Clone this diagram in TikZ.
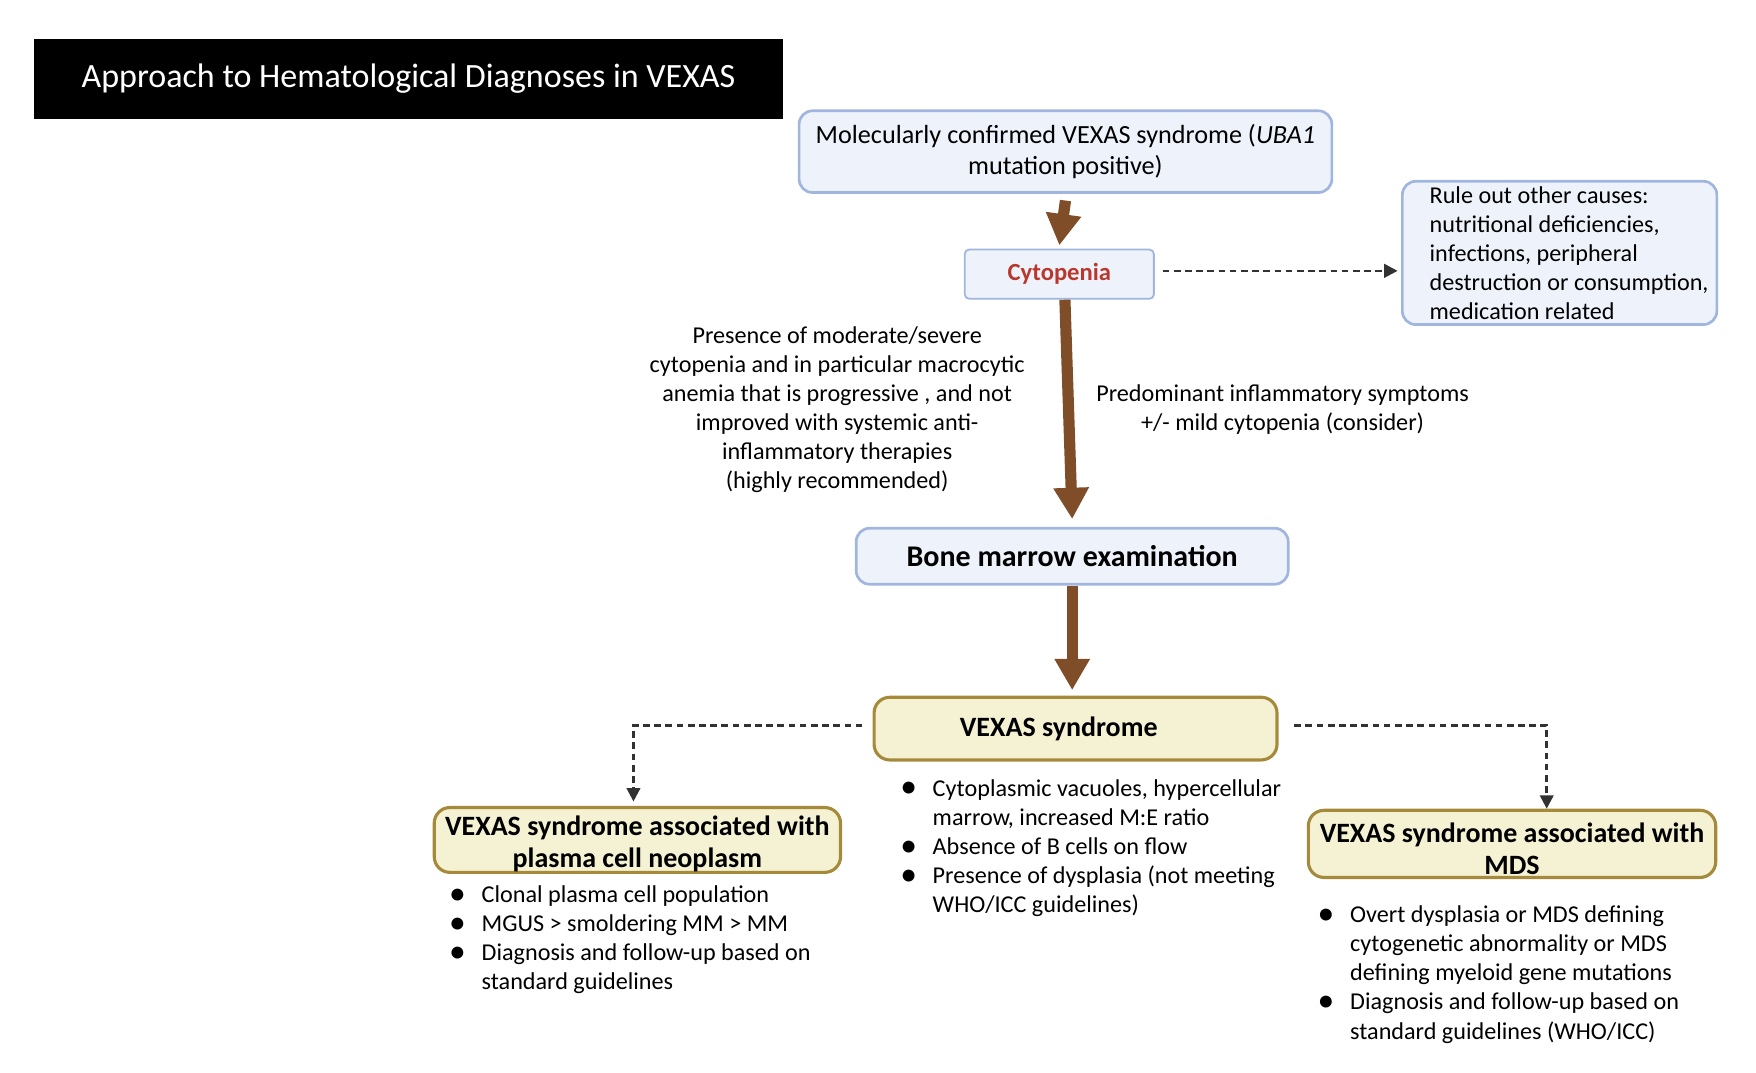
\documentclass[tikz,border=0pt]{standalone}
\usepackage{fontspec}
\setmainfont{Carlito}
\usetikzlibrary{arrows.meta}

\definecolor{boxblue}{RGB}{238,243,251}
\definecolor{lineblue}{RGB}{160,182,222}
\definecolor{boxcream}{RGB}{245,242,212}
\definecolor{linegold}{RGB}{166,138,60}
\definecolor{arrowbrown}{RGB}{127,78,40}
\definecolor{cytored}{RGB}{185,55,45}
\definecolor{dashgray}{RGB}{50,50,50}

\newcommand{\bul}{\makebox[14.5pt][l]{\smash{\raisebox{-0.15ex}{\fontsize{15}{13}\selectfont\textbullet}}}}
\newcommand{\ind}{\hspace*{14.5pt}}

\tikzset{
  bluebox/.style={draw=lineblue, line width=1.2pt, fill=boxblue, rounded corners=6pt, inner sep=0pt, align=center},
  creambox/.style={draw=linegold, line width=1.4pt, fill=boxcream, rounded corners=7pt, inner sep=0pt, align=center, font=\fontsize{12.5}{14.5}\selectfont\bfseries},
  bigarrow/.style={draw=arrowbrown, line width=5pt, -{Triangle[width=15pt,length=14pt]}},
  dasharrow/.style={draw=dashgray, line width=1.2pt, dash pattern=on 3pt off 2pt, -{Triangle[width=6pt,length=6pt]}},
  note/.style={font=\fontsize{10.8}{13}\selectfont, align=center, inner sep=0pt},
  bullets/.style={font=\fontsize{10.8}{13}\selectfont, align=left, inner sep=0pt, anchor=north west}
}

\begin{document}
\begin{tikzpicture}[x=0.5pt, y=-0.5pt]
\useasboundingbox (0,0) rectangle (1569,958);

\node[fill=black, minimum width=335pt, minimum height=35.5pt, text=white, font=\fontsize{15.2}{18}\selectfont] (title) at (365,70.5) {Approach to Hematological Diagnoses in VEXAS};

\node[bluebox, minimum width=238pt, minimum height=36.5pt, font=\fontsize{11.7}{14}\selectfont] (uba) at (952,135.5)
  {Molecularly confirmed VEXAS syndrome (\textit{UBA1}\\ mutation positive)};
\node[bluebox, line width=0.8pt, rounded corners=2pt, minimum width=84.5pt, minimum height=22pt, text=cytored, font=\fontsize{11}{13}\selectfont\bfseries] (cyto) at (946.5,245) {Cytopenia};
\node[bluebox, minimum width=140.5pt, minimum height=64pt] (rule) at (1393.5,226) {};
\node[note, align=left, anchor=west] (ruletext) at (1277,226)
  {Rule out other causes:\\ nutritional deficiencies,\\ infections, peripheral\\ destruction or consumption,\\ medication related};

\node[note] (severe) at (748,366)
  {Presence of moderate/severe\\ cytopenia and in particular macrocytic\\ anemia that is progressive , and not\\ improved with systemic anti-\\ inflammatory therapies\\ (highly recommended)};
\node[note] (mild) at (1146,366)
  {Predominant inflammatory symptoms\\ +/- mild cytopenia (consider)};

\node[bluebox, minimum width=193pt, minimum height=25pt, font=\fontsize{13.4}{16}\selectfont\bfseries] (bone) at (958,497) {Bone marrow examination};

\node[creambox, minimum width=180pt, minimum height=28pt] (vexas) at (961,651) {VEXAS syndrome\hspace*{15pt}};
\node[creambox, minimum width=181.5pt, minimum height=28.5pt] (pcn) at (569.5,750.5)
  {\\[-2pt]VEXAS syndrome associated with\\ plasma cell neoplasm};
\node[creambox, minimum width=182pt, minimum height=30pt] (mds) at (1351,754)
  {\\[-1.5pt]VEXAS syndrome associated with\\ MDS};

\node[bullets] (vexaslist) at (804,696)
  {\bul Cytoplasmic vacuoles, hypercellular\\ \ind marrow, increased M:E ratio\\ \bul Absence of B cells on flow\\ \bul Presence of dysplasia (not meeting\\ \ind WHO/ICC guidelines)};
\node[bullets] (pcnlist) at (401,791)
  {\bul Clonal plasma cell population\\ \bul MGUS > smoldering MM > MM\\ \bul Diagnosis and follow-up based on\\ \ind standard guidelines};
\node[bullets] (mdslist) at (1177,809)
  {\bul Overt dysplasia or MDS defining\\ \ind cytogenetic abnormality or MDS\\ \ind defining myeloid gene mutations\\ \bul Diagnosis and follow-up based on\\ \ind standard guidelines (WHO/ICC)};

\draw[bigarrow] ([yshift=-3pt]uba.south) -- ([yshift=1.5pt]cyto.north);
\draw[bigarrow] ([xshift=2.5pt]cyto.south) -- ([yshift=3.5pt]bone.north);
\draw[bigarrow] (bone.south) -- ([yshift=2.5pt]bone.south |- vexas.north);

\draw[dasharrow] ([xshift=3.5pt,yshift=1.5pt]cyto.east) -- ([xshift=-1.5pt,yshift=1.5pt]cyto.east -| rule.west);
\draw[dasharrow] ([xshift=-4.5pt,yshift=1.5pt]vexas.west) -| ([xshift=-1.75pt,yshift=2pt]pcn.north);
\draw[dasharrow] ([xshift=7pt,yshift=1.5pt]vexas.east) -| ([xshift=15.5pt,yshift=0pt]mds.north);
\end{tikzpicture}
\end{document}
